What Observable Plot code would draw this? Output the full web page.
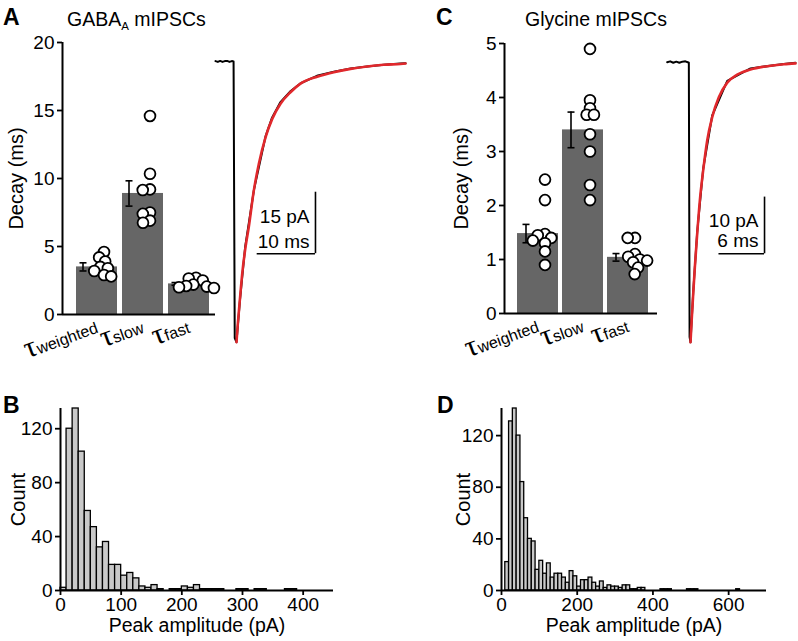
<!DOCTYPE html>
<html><head><meta charset="utf-8">
<script src="https://cdn.jsdelivr.net/npm/d3@7"></script>
<script src="https://cdn.jsdelivr.net/npm/@observablehq/plot@0.6"></script>
<style>
body{margin:0;background:#fff;font-family:"Liberation Sans",Arial,sans-serif;}
#fig{position:relative;width:798px;height:641px;overflow:hidden;background:#fff;}
#fig svg{position:absolute;}
.lab{position:absolute;white-space:nowrap;color:#000;}
.letter{font-weight:bold;font-size:23px;line-height:23px;}
.title{font-size:19.5px;line-height:19.5px;}
</style></head><body><div id="fig"></div>
<script>
// ---------------- DATA ----------------
const tauCategories = ["weighted", "slow", "fast"];

// Panel A: GABA_A mIPSC decay time constants (ms), one per cell
const gabaWeightedDecay = [4.6, 4.2, 3.9, 3.5, 3.4, 3.2, 2.9, 2.8];
const gabaSlowDecay = [14.6, 10.35, 9.2, 9.15, 7.5, 7.4, 6.9, 6.75];
const gabaFastDecay = [2.7, 2.65, 2.5, 2.2, 2.1, 2.05, 2.0, 1.95];
const gabaDecayMean = [3.5, 8.9, 2.25];
const gabaDecaySem = [0.3, 0.93, 0.1];
const gabaDecayTicks = [0, 5, 10, 15, 20];

// Panel C: glycine mIPSC decay time constants (ms)
const glyWeightedDecay = [2.48, 2.1, 1.47, 1.45, 1.4, 1.35, 1.3, 1.15, 0.9];
const glySlowDecay = [4.9, 3.95, 3.8, 3.68, 3.68, 3.32, 3.0, 2.38, 2.1];
const glyFastDecay = [1.4, 1.4, 1.1, 1.05, 1.0, 0.98, 0.95, 0.85, 0.73];
const glyDecayMean = [1.48, 3.40, 1.04];
const glyDecaySem = [0.17, 0.33, 0.07];
const glyDecayTicks = [0, 1, 2, 3, 4, 5];

// Averaged mIPSC traces (time ms, current pA) and fits
const gabaTraceT = [0, 0.4, 0.8, 1.2, 1.6, 2.0, 2.4, 2.8, 3.1, 3.3, 3.6, 4.2, 5.1, 6.6, 8.6, 9.7, 11.1, 12.9, 14.6, 17.4, 20.3, 23.2, 26.0, 28.9, 31.7, 32.6];
const gabaTraceI = [0.1, -0.1, 0.15, -0.1, 0.1, 0.15, -0.1, 0.1, 0, -67.5, -68.5, -58.2, -45.1, -31.3, -18.2, -13.7, -10.0, -7.2, -5.3, -3.5, -2.5, -1.7, -1.2, -0.8, -0.5, -0.4];
const gabaFitT = [3.6, 3.83, 4.17, 4.58, 5.15, 5.71, 6.57, 7.43, 8.58, 9.73, 11.15, 12.86, 14.58, 17.44, 20.29, 23.16, 26.02, 28.87, 31.73, 32.6];
const gabaFitI = [-68.5, -64.0, -58.3, -51.8, -45.3, -40.4, -31.5, -25.0, -18.5, -14.0, -10.3, -7.5, -5.4, -3.7, -2.6, -1.8, -1.2, -0.8, -0.6, -0.5];
const gabaScaleBar = {pA: 15, ms: 10};

const glyTraceT = [0, 0.4, 0.8, 1.2, 1.6, 2.0, 2.4, 2.7, 2.85, 2.95, 3.07, 3.43, 3.95, 4.74, 5.93, 7.91, 10.97, 15.36, 16.9];
const glyTraceI = [0, 0.15, -0.1, 0.1, -0.1, 0.1, 0.15, 0, -0.1, -48.5, -49.4, -40.5, -30.0, -18.8, -9.4, -3.3, -1.1, -0.3, -0.1];
const glyFitT = [3.07, 3.20, 3.43, 3.64, 3.95, 4.30, 4.74, 5.27, 5.93, 6.80, 7.91, 9.22, 10.97, 13.18, 15.36, 16.9];
const glyFitI = [-49.4, -46.1, -40.8, -36.2, -30.3, -24.4, -19.1, -13.8, -9.7, -6.2, -3.6, -2.2, -1.3, -0.7, -0.35, -0.2];
const glyScaleBar = {pA: 10, ms: 6};

// Peak amplitude histograms (10 pA bins starting at 0)
const histBinWidth = 10;
const gabaAmpCounts = [2,120,135,103,59,47,32,36,19,19,11,13,9,3,2,4,1,0,1,1,3,2,4,1,1,1,1,0,0,1,1,0,1,1,0,0,0,1,1,0,0,0,0,0,0];
const glyAmpCounts = [0,22,131,141,120,84,56,40,38,16,23,13,21,10,13,13,10,6,15,11,3,8,8,10,6,3,7,2,4,3,3,2,4,4,1,1,2,2,0,0,0,0,1,1,1,0,0,0,0,1,1,1,0,0,0,0,0,0,0,0,0,0,1,0,0,0,0,0,0,0];
const gabaAmpTicks = [0, 100, 200, 300, 400];
const glyAmpTicks = [0, 200, 400, 600];
const countTicks = [0, 40, 80, 120];

// ---------------- DRAWING ----------------
const FONT = "Liberation Sans, Arial, sans-serif";
const fig = document.getElementById("fig");
const NS = "http://www.w3.org/2000/svg";
const capSymbol = {draw(ctx) { ctx.moveTo(-3.5, 0); ctx.lineTo(3.5, 0); }};
const intFmt = d => String(d);

function place(el, left, top) { el.style.left = left + "px"; el.style.top = top + "px"; fig.appendChild(el); }
function baseStyle(size = "19px") { return {fontFamily: FONT, fontSize: size, background: "transparent", overflow: "visible", color: "black"}; }

function decayPanel(o) {
  const stats = tauCategories.map((c, i) => ({cat: c, mean: o.mean[i], lo: o.mean[i] - o.sem[i], hi: o.mean[i] + o.sem[i]}));
  const pts = tauCategories.flatMap((c, i) => o.values[i].map(v => ({cat: c, v})));
  const dims = {width: o.width, height: o.height, marginLeft: o.ml, marginRight: o.mr, marginTop: o.mt, marginBottom: o.mb};
  const bars = Plot.plot({
    ...dims, style: baseStyle(),
    y: {domain: o.yDomain, axis: null},
    fx: {domain: tauCategories, paddingInner: o.pi, paddingOuter: o.po, align: o.align, label: null,
         axis: "bottom", tickSize: 0, tickPadding: o.tickPad, tickRotate: -20, tickFormat: d => d},
    marks: [
      Plot.barY(stats, {fx: "cat", y: "mean", fill: "#666666"}),
      Plot.ruleX(stats, {fx: "cat", x: null, y1: "lo", y2: "hi", dx: o.errDx, stroke: "black", strokeWidth: 1.6}),
      Plot.dot(stats, {fx: "cat", y: "hi", symbol: capSymbol, dx: o.errDx, stroke: "black", strokeWidth: 1.6, fill: "none"}),
      Plot.dot(stats, {fx: "cat", y: "lo", symbol: capSymbol, dx: o.errDx, stroke: "black", strokeWidth: 1.6, fill: "none"}),
      Plot.dot(pts, Plot.dodgeX({anchor: "middle", padding: -3.5}, {fx: "cat", y: "v", r: 5.4, fill: "white", stroke: "black", strokeWidth: 1.8, dx: o.dotDx}))
    ]
  });
  bars.querySelectorAll('[aria-label="fx-axis tick label"] text').forEach(t => {
    const key = t.textContent; t.textContent = "";
    const a = document.createElementNS(NS, "tspan"); a.setAttribute("font-size", "30"); a.setAttribute("font-family", "Liberation Serif, serif"); a.textContent = "τ";
    const b = document.createElementNS(NS, "tspan"); b.setAttribute("font-size", "16"); b.textContent = key;
    t.append(a, b);
  });
  place(bars, o.left, o.top);
  const axes = Plot.plot({
    ...dims, style: baseStyle(),
    x: {domain: [0, 1], axis: null},
    y: {domain: o.yDomain, axis: null},
    marks: [
      Plot.axisY({ticks: o.yTicks, tickFormat: intFmt, tickSize: 5, tickPadding: 3, strokeWidth: 1.8}),
      Plot.axisY({ticks: [], label: "Decay (ms)", labelAnchor: "center", labelOffset: o.labelOffset, labelArrow: "none", fontSize: 20, tickSize: 0}),
      Plot.ruleX([0], {strokeWidth: 2}),
      Plot.ruleY([0], {strokeWidth: 2})
    ]
  });
  place(axes, o.left, o.top);
}

function tracePanel(o) {
  const trace = o.traceT.map((t, i) => ({t, i: o.traceI[i]}));
  const fit = o.fitT.map((t, i) => ({t, i: o.fitI[i]}));
  const bar = [{t: o.barT, i: o.barI}];
  const p = Plot.plot({
    width: o.width, height: o.height, marginLeft: o.ml, marginRight: o.mr, marginTop: o.mt, marginBottom: o.mb,
    style: baseStyle("19px"),
    x: {domain: o.xDomain, axis: null},
    y: {domain: o.yDomain, axis: null},
    marks: [
      Plot.line(trace, {x: "t", y: "i", stroke: "black", strokeWidth: 2}),
      Plot.line(fit, {x: "t", y: "i", stroke: "#e0282c", strokeWidth: 2.6, curve: "monotone-x"}),
      Plot.ruleX(bar, {x: "t", y1: "i", y2: d => d.i + o.scale.pA, stroke: "black", strokeWidth: 1.6}),
      Plot.ruleY(bar, {y: "i", x1: d => d.t - o.scale.ms, x2: "t", stroke: "black", strokeWidth: 1.6}),
      Plot.text(bar, {x: "t", y: "i", text: () => `${o.scale.pA} pA`, textAnchor: "end", dx: -6, dy: o.dyPA}),
      Plot.text(bar, {x: "t", y: "i", text: () => `${o.scale.ms} ms`, textAnchor: "end", dx: -6, dy: o.dyMS})
    ]
  });
  place(p, o.left, o.top);
}

function histPanel(o) {
  const bins = o.counts.map((c, i) => ({x1: i * histBinWidth, x2: (i + 1) * histBinWidth, count: c}));
  const p = Plot.plot({
    width: o.width, height: o.height, marginLeft: o.ml, marginRight: o.mr, marginTop: o.mt, marginBottom: o.mb,
    style: baseStyle(),
    x: {domain: o.xDomain, axis: null},
    y: {domain: o.yDomain, axis: null},
    marks: [
      Plot.rectY(bins, {x1: "x1", x2: "x2", y: "count", fill: "#c9c9c9", stroke: "black", strokeWidth: 1.3}),
      Plot.ruleX([0], {strokeWidth: 2}),
      Plot.ruleY([0], {strokeWidth: 2}),
      Plot.axisX({ticks: o.xTicks, tickFormat: intFmt, tickSize: 5, tickPadding: 2, strokeWidth: 1.8, label: null}),
      Plot.axisX({ticks: [], tickSize: 0, label: "Peak amplitude (pA)", labelAnchor: "center", labelOffset: o.xLabelOffset, labelArrow: "none", fontSize: 19.5}),
      Plot.axisY({ticks: countTicks, tickFormat: intFmt, tickSize: 5, tickPadding: 3, strokeWidth: 1.8, label: null}),
      Plot.axisY({ticks: [], tickSize: 0, label: "Count", labelAnchor: "center", labelOffset: o.yLabelOffset, labelArrow: "none", fontSize: 20})
    ]
  });
  place(p, o.left, o.top);
}

decayPanel({left: 0, top: 0, width: 230, height: 360, ml: 62, mr: 15, mt: 42, mb: 46,
  values: [gabaWeightedDecay, gabaSlowDecay, gabaFastDecay], mean: gabaDecayMean, sem: gabaDecaySem,
  yDomain: [0, 20], yTicks: gabaDecayTicks, pi: 0.109, po: 0.2175, align: 0.7, tickPad: 12,
  errDx: -14, dotDx: 7, labelOffset: 54});
decayPanel({left: 440, top: 0, width: 230, height: 360, ml: 64, mr: 13, mt: 43, mb: 47,
  values: [glyWeightedDecay, glySlowDecay, glyFastDecay], mean: glyDecayMean, sem: glyDecaySem,
  yDomain: [0, 5], yTicks: glyDecayTicks, pi: 0.099, po: 0.23, align: 0.57, tickPad: 12,
  errDx: -12, dotDx: 7, labelOffset: 51});

tracePanel({left: 205, top: 40, width: 210, height: 320, ml: 10, mr: 5, mt: 21, mb: 18.3,
  traceT: gabaTraceT, traceI: gabaTraceI, fitT: gabaFitT, fitI: gabaFitI,
  xDomain: [0, 33.45], yDomain: [-68.5, 0], scale: gabaScaleBar, barT: 17.15, barI: -46.9, dyPA: -37, dyMS: -12});
tracePanel({left: 655, top: 40, width: 143, height: 320, ml: 11.7, mr: 3, mt: 21.7, mb: 18.3,
  traceT: glyTraceT, traceI: glyTraceI, fitT: glyFitT, fitI: glyFitI,
  xDomain: [0, 16.9], yDomain: [-49.4, 0], scale: glyScaleBar, barT: 12.82, barI: -33.8, dyPA: -33, dyMS: -13});

histPanel({left: 0, top: 390, width: 350, height: 251, ml: 60, mr: 17, mt: 18, mb: 51,
  counts: gabaAmpCounts, xDomain: [0, 450], yDomain: [0, 135], xTicks: gabaAmpTicks, xLabelOffset: 41.5, yLabelOffset: 50});
histPanel({left: 440, top: 390, width: 358, height: 251, ml: 61, mr: 32, mt: 18, mb: 51,
  counts: glyAmpCounts, xDomain: [0, 700], yDomain: [0, 141], xTicks: glyAmpTicks, xLabelOffset: 41.5, yLabelOffset: 46});

// titles & panel letters
function label(html, cls, left, top) { const d = document.createElement("div"); d.className = "lab " + cls; d.innerHTML = html; d.style.left = left + "px"; d.style.top = top + "px"; fig.appendChild(d); }
label("A", "letter", 3, 5.5);
label("C", "letter", 436, 5.5);
label("B", "letter", 3, 393.5);
label("D", "letter", 437, 393.5);
label('GABA<span style="font-size:11.5px;position:relative;top:4px;">A</span> mIPSCs', "title", 67, 9.5);
label("Glycine mIPSCs", "title", 525, 9.5);
</script></body></html>
